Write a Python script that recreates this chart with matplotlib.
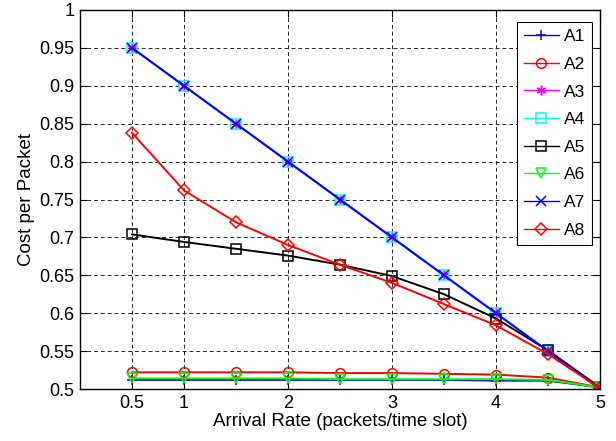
import matplotlib
matplotlib.use('Agg')
import matplotlib.pyplot as plt

plt.rcParams['font.family'] = ['Liberation Sans', 'DejaVu Sans']

# arrival rates (packets/time slot)
rate = [0.5, 1, 1.5, 2, 2.5, 3, 3.5, 4, 4.5, 5]

a1 = [0.512, 0.512, 0.512, 0.512, 0.512, 0.512, 0.512, 0.511, 0.511, 0.502]
a2 = [0.522, 0.522, 0.522, 0.522, 0.521, 0.521, 0.520, 0.519, 0.515, 0.502]
a3 = [0.95, 0.90, 0.85, 0.80, 0.75, 0.70, 0.65, 0.60, 0.55, 0.50]
a4 = [0.95, 0.90, 0.85, 0.80, 0.75, 0.70, 0.65, 0.60, 0.55, 0.50]
a5 = [0.704, 0.694, 0.685, 0.676, 0.664, 0.649, 0.625, 0.593, 0.551, 0.502]
a6 = [0.514, 0.514, 0.514, 0.514, 0.513, 0.513, 0.513, 0.513, 0.512, 0.502]
a7 = [0.95, 0.90, 0.85, 0.80, 0.75, 0.70, 0.65, 0.60, 0.55, 0.50]
a8 = [0.838, 0.762, 0.720, 0.690, 0.664, 0.640, 0.612, 0.584, 0.546, 0.501]

series = [
    ('A1', a1, '#0000ff', '+'),
    ('A2', a2, '#ff0000', 'o'),
    ('A3', a3, '#ff00ff', (6, 2, 0)),
    ('A4', a4, '#00ffff', 's'),
    ('A5', a5, '#000000', 's'),
    ('A6', a6, '#00ff00', 'v'),
    ('A7', a7, '#0000ff', 'x'),
    ('A8', a8, '#ff0000', 'D'),
]

fig = plt.figure(figsize=(6.16, 4.41), dpi=100)
ax = fig.add_axes([80 / 616, 1 - 389 / 441, 520 / 616, 379 / 441])

for name, vals, col, mk in series:
    ms = 6 if mk == 'D' else 7
    ax.plot(rate, vals, color=col, marker=mk, markersize=ms,
            markerfacecolor='none', markeredgecolor=col,
            markeredgewidth=1.1, linewidth=1.4, label=name)

ax.set_xlim(0, 5)
ax.set_ylim(0.5, 1.0)
ax.set_xticks([0.5, 1, 2, 3, 4, 5])
ax.set_xticklabels(['0.5', '1', '2', '3', '4', '5'])
ax.set_yticks([0.5 + 0.05 * i for i in range(11)])
ax.set_yticklabels(['0.5', '0.55', '0.6', '0.65', '0.7', '0.75',
                    '0.8', '0.85', '0.9', '0.95', '1'])

ax.grid(True, color='0.15', linestyle=(0, (4, 3)), linewidth=0.7)
ax.tick_params(direction='in', length=5, width=0.8, top=True, right=True,
               labelsize=13, pad=4)
for sp in ax.spines.values():
    sp.set_linewidth(1.0)

ax.set_xlabel('Arrival Rate (packets/time slot)', fontsize=13.5, labelpad=1)
ax.set_ylabel('Cost per Packet', fontsize=13.5, labelpad=3)

leg = ax.legend(loc='upper right', fontsize=12.5, frameon=True, fancybox=False,
                edgecolor='black', framealpha=1, handlelength=2.0,
                handletextpad=0.3, borderaxespad=0, labelspacing=0.72,
                borderpad=0.4, bbox_to_anchor=(0.985, 0.968))
leg.get_frame().set_linewidth(0.8)
for ln in leg.get_lines():
    ln.set_linewidth(1.0)

fig.savefig('out.png', dpi=100)
